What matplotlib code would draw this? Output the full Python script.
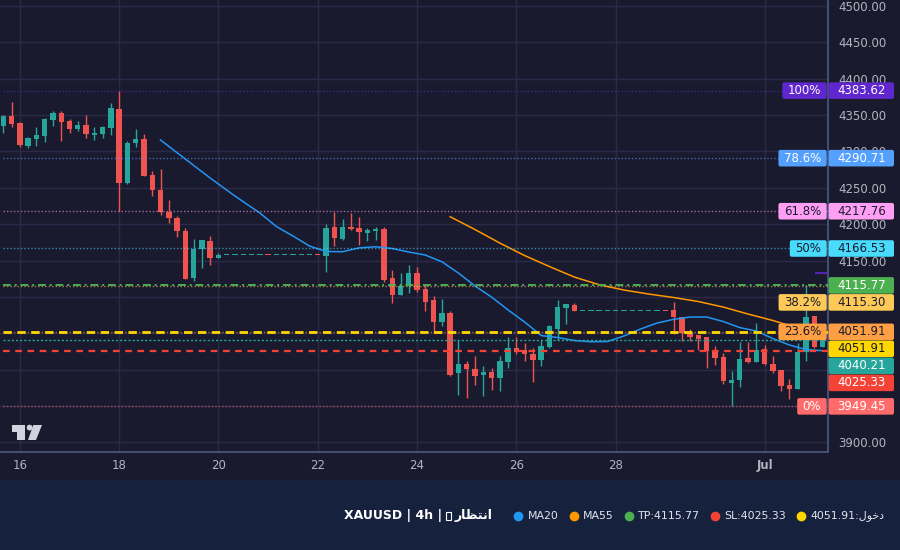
import matplotlib
matplotlib.use("Agg")
import matplotlib.pyplot as plt
import matplotlib.dates as mdates
from matplotlib.patches import FancyBboxPatch, Rectangle, Polygon, Circle
from matplotlib.ticker import FormatStrFormatter
import pandas as pd

# XAUUSD 4h candles, first candle Sun 15 Jun 16:00
opens = [4335.3, 4348.7, 4339.0, 4307.8, 4317.0, 4321.6, 4343.6, 4352.8, 4341.8, 4330.8,
         4336.3, 4322.9, 4324.3, 4332.6, 4358.3, 4257.0, 4311.9, 4317.0, 4267.5, 4246.9,
         4216.7, 4208.4, 4190.5, 4126.3, 4166.2, 4176.8, 4153.8, 4157.5, 4157.5, 4157.5,
         4157.5, 4157.5, 4157.6, 4157.5, 4157.5, 4157.5, 4157.5, 4157.5, 4157.6, 4156.6,
         4196.0, 4179.5, 4196.0, 4194.7, 4187.8, 4190.5, 4193.3, 4125.9, 4102.5, 4116.3,
         4132.8, 4110.8, 4095.7, 4065.4, 4077.8, 3995.3, 4007.7, 4000.8, 3992.5, 3996.7,
         3988.4, 4010.4, 4029.7, 4026.9, 4021.4, 4013.2, 4031.0, 4055.8, 4084.7, 4088.8,
         4080.5, 4080.5, 4080.5, 4080.5, 4080.5, 4080.5, 4080.5, 4080.5, 4080.5, 4080.5,
         4080.6, 4081.9, 4071.9, 4049.9, 4047.1, 4044.4, 4026.5, 4016.9, 3981.9, 3986.1,
         4015.5, 4010.0, 4027.9, 4007.3, 3999.0, 3978.8, 3973.7, 4024.6, 4073.3, 4030.6]
highs = [4350.5, 4367.9, 4340.4, 4319.8, 4333.5, 4346.3, 4355.5, 4355.5, 4344.5, 4341.8,
         4350.0, 4333.5, 4334.9, 4366.5, 4383.6, 4314.3, 4330.8, 4323.9, 4273.0, 4275.8,
         4233.2, 4211.2, 4194.7, 4179.5, 4178.2, 4183.7, 4160.3, 4157.5, 4157.5, 4157.5,
         4157.5, 4157.5, 4157.6, 4157.5, 4157.5, 4157.5, 4157.5, 4157.5, 4157.6, 4200.2,
         4216.7, 4207.0, 4215.3, 4209.8, 4194.7, 4196.0, 4196.0, 4136.9, 4132.8, 4143.8,
         4141.0, 4116.3, 4101.2, 4097.0, 4080.5, 4040.7, 4011.8, 4018.7, 4004.9, 4002.2,
         4018.7, 4044.8, 4044.8, 4036.5, 4029.7, 4040.7, 4061.3, 4095.7, 4090.2, 4091.5,
         4080.5, 4080.5, 4080.5, 4080.5, 4080.5, 4080.5, 4080.5, 4080.5, 4080.5, 4080.5,
         4080.6, 4092.9, 4071.9, 4055.4, 4047.1, 4044.4, 4032.0, 4022.4, 3997.6, 4037.5,
         4037.5, 4063.6, 4033.4, 4018.3, 3999.0, 3987.4, 4036.1, 4116.0, 4073.3, 4040.2]
lows = [4325.7, 4334.0, 4306.5, 4305.1, 4307.8, 4313.3, 4335.3, 4314.7, 4325.7, 4328.0,
        4318.8, 4316.1, 4318.8, 4322.9, 4218.4, 4255.6, 4306.5, 4266.6, 4239.1, 4212.9,
        4201.9, 4182.7, 4124.9, 4122.2, 4140.1, 4144.2, 4153.8, 4157.5, 4157.5, 4157.5,
        4157.5, 4157.5, 4157.5, 4157.5, 4157.5, 4157.5, 4157.5, 4157.5, 4157.5, 4134.6,
        4169.9, 4178.2, 4191.9, 4171.3, 4176.8, 4178.2, 4120.8, 4091.5, 4102.5, 4105.3,
        4106.7, 4080.5, 4050.3, 4059.9, 3991.2, 3965.0, 3960.9, 3978.8, 3963.7, 3971.9,
        3970.5, 4002.2, 4021.4, 4011.8, 3982.9, 4004.9, 4029.7, 4040.7, 4062.7, 4080.5,
        4080.5, 4080.5, 4080.5, 4080.5, 4080.5, 4080.5, 4080.5, 4080.5, 4080.5, 4080.5,
        4080.5, 4048.9, 4039.3, 4039.3, 4026.9, 4002.6, 4005.9, 3980.6, 3949.45, 3976.5,
        4008.6, 4010.0, 4005.9, 3994.9, 3970.9, 3959.9, 3973.7, 4012.2, 4029.2, 4030.6]
closes = [4348.7, 4338.1, 4309.2, 4318.4, 4322.5, 4344.5, 4352.8, 4340.8, 4331.2, 4336.3,
          4324.3, 4325.7, 4333.5, 4359.7, 4257.0, 4311.5, 4317.0, 4266.6, 4247.3, 4217.1,
          4208.8, 4190.9, 4124.9, 4165.8, 4178.2, 4153.8, 4157.5, 4157.5, 4157.5, 4157.5,
          4157.5, 4157.5, 4157.5, 4157.5, 4157.5, 4157.5, 4157.5, 4157.5, 4157.5, 4194.7,
          4181.3, 4196.0, 4192.9, 4189.2, 4191.9, 4193.3, 4123.2, 4102.5, 4114.9, 4132.8,
          4109.4, 4092.9, 4065.4, 4077.8, 3992.5, 4007.7, 4000.8, 3991.2, 3996.7, 3988.4,
          4011.8, 4029.7, 4024.2, 4021.4, 4013.2, 4032.4, 4059.9, 4086.0, 4090.2, 4080.5,
          4080.5, 4080.5, 4080.5, 4080.5, 4080.5, 4080.5, 4080.5, 4080.5, 4080.5, 4080.5,
          4080.5, 4071.9, 4049.9, 4044.4, 4041.6, 4025.1, 4015.5, 3984.7, 3985.3, 4014.1,
          4010.0, 4026.5, 4007.3, 3997.6, 3977.8, 3973.7, 4024.6, 4071.9, 4030.6, 4040.21]
times = pd.date_range("2025-06-15 16:00", periods=len(opens), freq="4h")

# moving averages, read at candle positions
ma20_idx = [19, 22, 25, 28, 31, 33, 35, 37, 39, 41, 43, 45, 47, 49, 51, 53, 55, 57, 59,
            61, 63, 65, 67, 69, 71, 73, 75, 77, 79, 81, 83, 85, 87, 89, 91, 93, 95, 97, 99]
ma20_val = [4315.7, 4289.5, 4263.4, 4238.6, 4215.3, 4196.7, 4183.7, 4169.9, 4162.4, 4162.1,
            4167.4, 4168.9, 4166.5, 4161.7, 4157.5, 4148.3, 4132.8, 4115.0, 4099.8, 4082.0,
            4065.4, 4046.8, 4044.1, 4040.0, 4038.3, 4038.6, 4046.2, 4055.8, 4064.0, 4069.1,
            4072.3, 4072.3, 4066.1, 4057.8, 4053.0, 4042.7, 4033.8, 4027.6, 4026.0]
ma55_idx = [54, 57, 60, 63, 66, 69, 72, 75, 78, 81, 84, 87, 90, 93, 96, 99]
ma55_val = [4210.2, 4192.6, 4174.0, 4156.8, 4141.7, 4127.3, 4116.7, 4109.4, 4103.9, 4099.1,
            4093.6, 4086.0, 4076.4, 4067.5, 4057.2, 4048.9]

fib_names = ["100%", "78.6%", "61.8%", "50%", "38.2%", "23.6%", "0%"]
fib_prices = [4383.62, 4290.71, 4217.76, 4166.53, 4115.30, 4051.91, 3949.45]
fib_colors = ["#5f27cd", "#54a0ff", "#ff9ff3", "#48dbfb", "#feca57", "#ff9f43", "#ff6b6b"]
fib_fg = ["white", "white", "#1a1a2e", "#1a1a2e", "#1a1a2e", "#1a1a2e", "white"]

tp = 4115.77
sl = 4025.33
entry = 4051.91
last = closes[-1]
purple_mark = 4133.2

day_ticks = ["2025-06-16", "2025-06-18", "2025-06-20", "2025-06-22", "2025-06-24",
             "2025-06-26", "2025-06-28", "2025-07-01"]
day_labels = ["16", "18", "20", "22", "24", "26", "28", "Jul"]

BG = "#1a1a2e"
FOOT = "#16213e"
UP = "#26a69a"
DOWN = "#ef5350"
GRID = "#2a2a48"
TXT = "#b2b5be"

fig = plt.figure(figsize=(9, 5.5), dpi=100, facecolor=BG)
ax = fig.add_axes([0, 98 / 550, 828 / 900, 452 / 550])
ax.set_facecolor(BG)

x = mdates.date2num(times)
step = 4 / 24
x_right = x[0] + 99.66 * step
ax.set_xlim(x[0] - 0.4 * step, x_right)
ax.set_ylim(3886.7, 4508.2)

# candles
cols = [UP if c >= o else DOWN for o, c in zip(opens, closes)]
ax.vlines(x, lows, highs, colors=cols, lw=1, zorder=3)
bottoms = [min(o, c) for o, c in zip(opens, closes)]
heights = [max(abs(c - o), 1.6) for o, c in zip(opens, closes)]
ax.bar(x, heights, width=step * 0.65, bottom=bottoms, color=cols, linewidth=0, zorder=4)

# moving averages
ax.plot(x[ma20_idx], ma20_val, color="#2196f3", lw=1.1, zorder=5)
ax.plot(x[ma55_idx], ma55_val, color="#ff9800", lw=1.1, zorder=5)

# fibonacci levels
for p, c in zip(fib_prices, fib_colors):
    ax.hlines(p, x[0], x_right, colors=c, lw=1, alpha=0.6, linestyles=(0, (1, 1.5)), zorder=6)

# trade levels
ax.hlines(tp, x[0], x_right, colors="#4caf50", lw=1.4, linestyles=(0, (4, 2, 1, 2)), zorder=7)
ax.hlines(entry, x[0], x_right, colors="#ffd700", lw=2, linestyles=(0, (3, 2)), zorder=7)
ax.hlines(sl, x[0], x_right, colors="#f44336", lw=1.6, linestyles=(0, (3, 2.5)), zorder=7)
ax.hlines(last, x[0], x_right, colors=UP, lw=1, linestyles=(0, (1.5, 1.5)), zorder=7)
ax.hlines(purple_mark, x[98] + 0.1 * step, x[99] + 0.5 * step, colors="#5f27cd", lw=1.2, zorder=7)

# axes styling
ax.yaxis.tick_right()
yticks = list(range(3900, 4501, 50))
ax.set_yticks(yticks)
ax.yaxis.set_major_formatter(FormatStrFormatter("%.2f"))
ax.set_xticks(mdates.date2num(pd.to_datetime(day_ticks)))
ax.set_xticklabels(day_labels)
ax.xaxis.get_ticklabels()[-1].set_fontweight("bold")
ax.xaxis.get_ticklabels()[-1].set_color("#d1d4dc")
ax.tick_params(axis="y", length=0, pad=7.2, labelsize=8.5, labelcolor=TXT)
ax.tick_params(axis="x", length=0, pad=5, labelsize=8.5, labelcolor=TXT)
ax.grid(True, color=GRID, lw=1)
ax.set_axisbelow(True)
for s in ["top", "left"]:
    ax.spines[s].set_visible(False)
for s in ["right", "bottom"]:
    ax.spines[s].set_color("#4b5a80")
    ax.spines[s].set_linewidth(1.2)

# overlay in pixel coordinates
ov = fig.add_axes([0, 0, 1, 1], zorder=10)
ov.set_xlim(0, 900)
ov.set_ylim(550, 0)
ov.axis("off")
ov.patch.set_alpha(0)

ov.add_patch(Rectangle((0, 480), 900, 70, color=FOOT, zorder=0))


def to_px(price):
    return 550 - ax.transData.transform((x[0], price))[1]


labels = []
for n, p, c, f in zip(fib_names, fib_prices, fib_colors, fib_fg):
    labels.append((p, n, c, f))
labels.append((tp, None, "#4caf50", "white"))
labels.append((entry, None, "#ffd700", "#1a1a2e"))
labels.append((last, None, UP, "white"))
labels.append((sl, None, "#f44336", "white"))
labels.sort(key=lambda t: -t[0])

renderer = fig.canvas.get_renderer()
prev = -100
boxes = []
for p, name, c, f in labels:
    y = max(to_px(p), prev + 17)
    prev = y
    boxes.append((y - 8.8, y + 8.8))
    ov.add_patch(FancyBboxPatch((828.6, y - 8.3), 65.4, 16.6,
                                boxstyle="round,pad=0,rounding_size=2", fc=c, ec="none", zorder=5))
    ov.text(861.3, y, f"{p:.2f}", ha="center", va="center", fontsize=8.5, color=f, zorder=6)
    if name:
        t = ov.text(821.2, y, name, ha="right", va="center", fontsize=8.5, color=f, zorder=6)
        w = t.get_window_extent(renderer).width
        ov.add_patch(FancyBboxPatch((821.2 - w - 5.5, y - 8.3), w + 11, 16.6,
                                    boxstyle="round,pad=0,rounding_size=2", fc=c, ec="none", zorder=5))


# price scale labels that sit completely under the label boxes are not shown
def covered(y):
    return any(b0 <= y <= b1 for b0, b1 in boxes)


for v, lab in zip(yticks, ax.get_yticklabels()):
    yp = to_px(v)
    if covered(yp - 5) and covered(yp) and covered(yp + 5):
        lab.set_visible(False)

# TradingView logo
logo = "#d1d4dc"
ov.add_patch(Polygon([(12, 425), (25, 425), (25, 440), (17.3, 440), (17.3, 431.7), (12, 431.7)],
                     closed=True, fc=logo, ec="none"))
ov.add_patch(Circle((29.6, 427.6), 2.9, fc=logo, ec="none"))
ov.add_patch(Polygon([(33.3, 425), (42, 425), (36, 440), (28, 440)], closed=True, fc=logo, ec="none"))

# footer: title (the hourglass sign has no glyph in any installed font, drawn as an empty box)
fy = 516
t1 = ov.text(344.5, fy, "XAUUSD | 4h |", ha="left", va="center",
             fontsize=9, fontweight="bold", color="white")
bx = t1.get_window_extent(renderer).x1
ov.add_patch(Rectangle((bx + 3.5, fy - 4), 5, 7.5, fill=False, ec="white", lw=0.8))
ov.text(bx + 11.5, fy, "\ufead\ufe8e\ufec8\ufe98\ufee7\ufe8d", ha="left", va="center",
        fontsize=9, fontweight="bold", color="white")

legend = [(518.4, "#2196f3", "MA20"), (573.6, "#ff9800", "MA55"),
          (629.0, "#4caf50", f"TP:{tp:.2f}"), (714.7, "#f44336", f"SL:{sl:.2f}"),
          (801.3, "#ffd700", f"{entry:.2f}:\ufedd\ufeee\ufea7\ufea9")]
for dx, c, label in legend:
    ov.plot(dx, fy, "o", color=c, markersize=7, markeredgewidth=0)
    ov.text(dx + 9.2, fy, label, ha="left", va="center", fontsize=7.9, color="#e0e3eb")

fig.savefig("out.png", dpi=100, facecolor=BG)
